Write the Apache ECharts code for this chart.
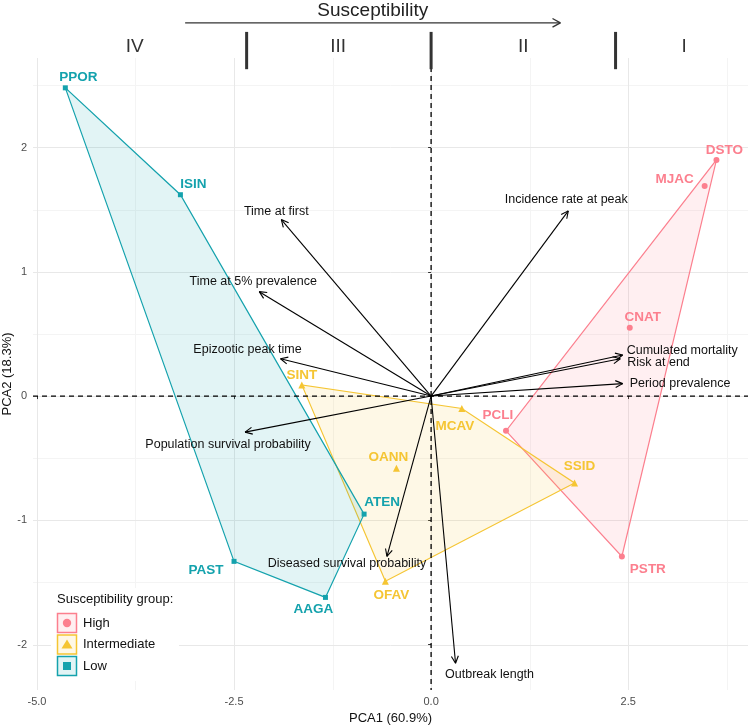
<!DOCTYPE html>
<html><head><meta charset="utf-8">
<script src="https://cdn.jsdelivr.net/npm/echarts@6/dist/echarts.min.js"></script>
<style>html,body{margin:0;padding:0;background:#fff}#c{width:750px;height:727px}</style>
</head><body><div id="c"></div>
<script>
// ---------- DATA ----------
const groupNames = ['High', 'Intermediate', 'Low'];

const highNames = ['DSTO', 'MJAC', 'CNAT', 'PCLI', 'PSTR'];
const highPC1   = [3.62, 3.47, 2.52, 0.95, 2.42];
const highPC2   = [1.90, 1.69, 0.55, -0.28, -1.29];

const interNames = ['SINT', 'OANN', 'OFAV', 'MCAV', 'SSID'];
const interPC1   = [-1.64, -0.44, -0.58, 0.39, 1.82];
const interPC2   = [0.09, -0.58, -1.49, -0.10, -0.70];

const lowNames = ['PPOR', 'ISIN', 'ATEN', 'PAST', 'AAGA'];
const lowPC1   = [-4.64, -3.18, -0.85, -2.50, -1.34];
const lowPC2   = [2.48, 1.62, -0.95, -1.33, -1.62];

const loadNames = ['Time at first', 'Time at 5% prevalence', 'Epizootic peak time',
  'Population survival probability', 'Diseased survival probability', 'Outbreak length',
  'Incidence rate at peak', 'Cumulated mortality', 'Risk at end', 'Period prevalence'];
const loadPC1 = [-1.90, -2.18, -1.91, -2.36, -0.56, 0.31, 1.74, 2.43, 2.40, 2.43];
const loadPC2 = [1.42, 0.84, 0.30, -0.29, -1.29, -2.15, 1.49, 0.33, 0.30, 0.10];

const xTicks = [-5, -2.5, 0, 2.5];
const xMinor = [-3.75, -1.25, 1.25, 3.75];
const yTicks = [-2, -1, 0, 1, 2];
const yMinor = [-1.5, -0.5, 0.5, 1.5, 2.5];

const zoneLabels = ['IV', 'III', 'II', 'I'];
const zoneCentres = [-3.76, -1.18, 1.17, 3.21];
const zoneBreaks = [-2.34, 0, 2.34];
const arrowTitle = 'Susceptibility';

// ---------- LAYOUT / STYLE ----------
const COL = { High: '#FC7F8E', Intermediate: '#F5C533', Low: '#14A2AD' };
const FILL = { High: 'rgba(252,127,142,0.12)', Intermediate: 'rgba(245,197,51,0.12)', Low: 'rgba(20,162,173,0.12)' };
const FONT = '"Liberation Sans", Arial, Helvetica, sans-serif';
const XR = [-5.05, 4.02], YR = [-2.365, 2.72];
// annotation placement (data units, above the panel)
const ANN = { textY: 3.10, arrowY: 3.003, arrowX: [-3.12, 1.64], textX: -0.74, barY: [2.63, 2.93], numY: 2.81 };
// point label pixel offsets
const ptOff = {
  PPOR: [13, -11], ISIN: [13, -10], ATEN: [18, -12], PAST: [-28, 9], AAGA: [-12, 12],
  SINT: [0, -10], OANN: [-8, -11], OFAV: [6, 14], MCAV: [-7, 18], SSID: [5, -17],
  DSTO: [8, -10], MJAC: [-30, -7], CNAT: [13, -10], PCLI: [-8, -16], PSTR: [26, 13]
};
// arrow label offsets [dx, dy, align]
const ldOff = {
  'Time at first': [-5, -8, 'center'],
  'Time at 5% prevalence': [-6, -10, 'center'],
  'Epizootic peak time': [-33, -9, 'center'],
  'Population survival probability': [-17, 12, 'center'],
  'Diseased survival probability': [-40, 7, 'center'],
  'Outbreak length': [34, 11, 'center'],
  'Incidence rate at peak': [-2, -11, 'center'],
  'Cumulated mortality': [4, -4, 'left'],
  'Risk at end': [7, 4, 'left'],
  'Period prevalence': [7, 0, 'left']
};

function hull(pts) {
  const p = pts.slice().sort((a, b) => a[0] - b[0] || a[1] - b[1]);
  const cross = (o, a, b) => (a[0] - o[0]) * (b[1] - o[1]) - (a[1] - o[1]) * (b[0] - o[0]);
  const lower = [], upper = [];
  for (const q of p) { while (lower.length >= 2 && cross(lower[lower.length - 2], lower[lower.length - 1], q) <= 0) lower.pop(); lower.push(q); }
  for (let i = p.length - 1; i >= 0; i--) { const q = p[i]; while (upper.length >= 2 && cross(upper[upper.length - 2], upper[upper.length - 1], q) <= 0) upper.pop(); upper.push(q); }
  upper.pop(); lower.pop();
  return lower.concat(upper);
}

const groups = [
  { g: 'High', names: highNames, x: highPC1, y: highPC2, symbol: 'circle', size: 6 },
  { g: 'Intermediate', names: interNames, x: interPC1, y: interPC2, symbol: 'triangle', size: 7 },
  { g: 'Low', names: lowNames, x: lowPC1, y: lowPC2, symbol: 'rect', size: 5 }
];

function lineEl(x1, y1, x2, y2, style) { return { type: 'line', shape: { x1, y1, x2, y2 }, style }; }
function arrowHead(p0, p1, len, ang, style) {
  const a = Math.atan2(p1[1] - p0[1], p1[0] - p0[0]);
  return [
    lineEl(p1[0], p1[1], p1[0] - len * Math.cos(a - ang), p1[1] - len * Math.sin(a - ang), style),
    lineEl(p1[0], p1[1], p1[0] - len * Math.cos(a + ang), p1[1] - len * Math.sin(a + ang), style)
  ];
}

const series = [];

// gridlines
series.push({
  type: 'custom', z: 0, silent: true, data: [0], clip: false,
  renderItem: (params, api) => {
    const cs = params.coordSys; const ch = [];
    const r = v => Math.round(v) + 0.5;
    xMinor.forEach(v => { const x = r(api.coord([v, 0])[0]); ch.push(lineEl(x, cs.y, x, cs.y + cs.height, { stroke: '#F4F4F4', lineWidth: 1 })); });
    yMinor.forEach(v => { const y = r(api.coord([0, v])[1]); ch.push(lineEl(cs.x, y, cs.x + cs.width, y, { stroke: '#F4F4F4', lineWidth: 1 })); });
    xTicks.forEach(v => { const x = r(api.coord([v, 0])[0]); ch.push(lineEl(x, cs.y, x, cs.y + cs.height, { stroke: '#E8E8E8', lineWidth: 1 })); });
    yTicks.forEach(v => { const y = r(api.coord([0, v])[1]); ch.push(lineEl(cs.x, y, cs.x + cs.width, y, { stroke: '#E8E8E8', lineWidth: 1 })); });
    return { type: 'group', children: ch };
  }
});

// hulls
groups.forEach(G => {
  const pts = hull(G.x.map((v, i) => [v, G.y[i]]));
  series.push({
    type: 'custom', name: G.g, z: 1, silent: true, data: [0], clip: false,
    renderItem: (params, api) => ({
      type: 'polygon', shape: { points: pts.map(q => api.coord(q)) },
      style: { fill: FILL[G.g], stroke: COL[G.g], lineWidth: 1.2 }
    })
  });
});

// zero lines
series.push({
  type: 'custom', z: 2, silent: true, data: [0], clip: false,
  renderItem: (params, api) => {
    const cs = params.coordSys; const o = api.coord([0, 0]);
    const st = { stroke: '#000', lineWidth: 1.3, lineDash: [5, 4] };
    return { type: 'group', children: [
      lineEl(cs.x, o[1], cs.x + cs.width, o[1], st),
      lineEl(o[0], cs.y, o[0], cs.y + cs.height, st)
    ] };
  }
});

// loading arrows
series.push({
  type: 'custom', z: 3, silent: true, clip: false,
  data: loadNames.map((n, i) => [loadPC1[i], loadPC2[i]]),
  renderItem: (params, api) => {
    const i = params.dataIndex;
    const o = api.coord([0, 0]); const h = api.coord([loadPC1[i], loadPC2[i]]);
    const st = { stroke: '#000', lineWidth: 1.1 };
    const off = ldOff[loadNames[i]];
    return { type: 'group', children: [
      lineEl(o[0], o[1], h[0], h[1], st),
      ...arrowHead(o, h, 8, 0.45, st),
      { type: 'text', x: h[0] + off[0], y: h[1] + off[1], z2: 10,
        style: { text: loadNames[i], fill: '#111', font: '12.5px ' + FONT, align: off[2], verticalAlign: 'middle' } }
    ] };
  }
});

// points
groups.forEach(G => {
  series.push({
    type: 'scatter', name: G.g, z: 4, silent: true, symbol: G.symbol, symbolSize: G.size,
    itemStyle: { color: COL[G.g], opacity: 1 },
    data: G.x.map((v, i) => [v, G.y[i]])
  });
  series.push({
    type: 'custom', z: 5, silent: true, clip: false,
    data: G.x.map((v, i) => [v, G.y[i]]),
    renderItem: (params, api) => {
      const i = params.dataIndex; const p = api.coord([G.x[i], G.y[i]]);
      const off = ptOff[G.names[i]];
      return { type: 'text', x: p[0] + off[0], y: p[1] + off[1],
        style: { text: G.names[i], fill: COL[G.g], font: 'bold 13.5px ' + FONT, align: 'center', verticalAlign: 'middle' } };
    }
  });
});

// top annotation
series.push({
  type: 'custom', z: 6, silent: true, data: [0], clip: false,
  renderItem: (params, api) => {
    const ch = [];
    const t = api.coord([ANN.textX, ANN.textY]);
    ch.push({ type: 'text', x: t[0], y: t[1], style: { text: arrowTitle, fill: '#222', font: '19px ' + FONT, align: 'center', verticalAlign: 'middle' } });
    const a0 = api.coord([ANN.arrowX[0], ANN.arrowY]), a1 = api.coord([ANN.arrowX[1], ANN.arrowY]);
    const st = { stroke: '#333', lineWidth: 1.3 };
    ch.push(lineEl(a0[0], a0[1], a1[0], a1[1], st));
    ch.push(...arrowHead(a0, a1, 9, 0.5, st));
    zoneBreaks.forEach(b => {
      const p0 = api.coord([b, ANN.barY[0]]), p1 = api.coord([b, ANN.barY[1]]);
      ch.push(lineEl(p0[0], p0[1], p1[0], p1[1], { stroke: '#333', lineWidth: 3 }));
    });
    zoneLabels.forEach((z, i) => {
      const p = api.coord([zoneCentres[i], ANN.numY]);
      ch.push({ type: 'text', x: p[0], y: p[1], style: { text: z, fill: '#333', font: '19px ' + FONT, align: 'center', verticalAlign: 'middle' } });
    });
    return { type: 'group', children: ch };
  }
});

// legend (graphic)
const legendItems = [];
const LX = 57, LY0 = 613, LS = 21.5;
legendItems.push({ type: 'rect', z: 100, shape: { x: 51, y: 588, width: 128, height: 93 }, style: { fill: '#fff' } });
legendItems.push({ type: 'text', z: 101, left: LX, top: 593, style: { text: 'Susceptibility group:', fill: '#111', font: '13px ' + FONT } });
groupNames.forEach((g, i) => {
  const y = LY0 + i * LS;
  legendItems.push({ type: 'rect', z: 101, shape: { x: LX + 0.5, y: y + 0.5, width: 19, height: 19 }, style: { fill: FILL[g], stroke: COL[g], lineWidth: 1.5 } });
  const cx = LX + 10, cy = y + 10;
  if (g === 'High') legendItems.push({ type: 'circle', z: 102, shape: { cx, cy, r: 4.2 }, style: { fill: COL[g] } });
  if (g === 'Intermediate') legendItems.push({ type: 'polygon', z: 102, shape: { points: [[cx, cy - 5], [cx + 5.5, cy + 4], [cx - 5.5, cy + 4]] }, style: { fill: COL[g] } });
  if (g === 'Low') legendItems.push({ type: 'rect', z: 102, shape: { x: cx - 4, y: cy - 4, width: 8, height: 8 }, style: { fill: COL[g] } });
  legendItems.push({ type: 'text', z: 101, x: LX + 26, y: cy, style: { text: g, fill: '#111', font: '13px ' + FONT, verticalAlign: 'middle' } });
});

const chart = echarts.init(document.getElementById('c'), null, { renderer: 'canvas' });
chart.setOption({
  animation: false,
  backgroundColor: '#fff',
  grid: { left: 33, right: 2, top: 58, bottom: 37, containLabel: false, outerBoundsMode: 'none' },
  xAxis: {
    type: 'value', min: XR[0], max: XR[1],
    name: 'PCA1 (60.9%)', nameLocation: 'middle', nameGap: 22, nameMoveOverlap: false,
    nameTextStyle: { fontFamily: FONT, fontSize: 13, color: '#111' },
    axisLine: { show: false }, splitLine: { show: false },
    axisTick: { show: true, customValues: xTicks, length: 3, lineStyle: { color: '#333' } },
    axisLabel: { customValues: xTicks, formatter: v => v.toFixed(1), fontFamily: FONT, fontSize: 11, color: '#4D4D4D', margin: 6 }
  },
  yAxis: {
    type: 'value', min: YR[0], max: YR[1],
    name: 'PCA2 (18.3%)', nameLocation: 'middle', nameGap: 19, nameMoveOverlap: false,
    nameTextStyle: { fontFamily: FONT, fontSize: 13, color: '#111' },
    axisLine: { show: false }, splitLine: { show: false },
    axisTick: { show: true, customValues: yTicks, length: 3, lineStyle: { color: '#333' } },
    axisLabel: { customValues: yTicks, formatter: v => String(v), fontFamily: FONT, fontSize: 11, color: '#4D4D4D', margin: 6 }
  },
  series,
  graphic: legendItems
});
</script></body></html>
